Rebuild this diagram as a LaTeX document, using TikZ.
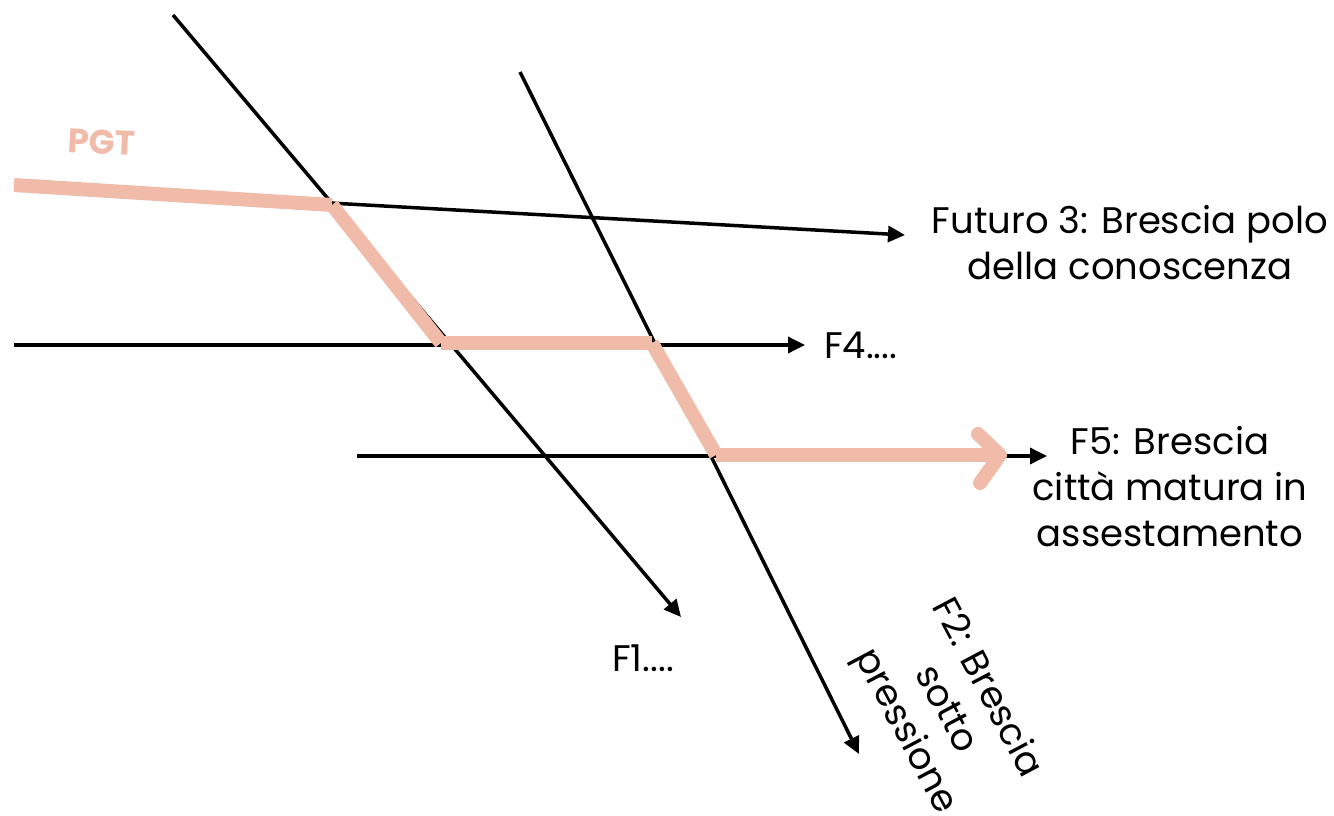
\documentclass[tikz,border=0pt]{standalone}
\usepackage{fontspec}
\setmainfont{Poppins}
\usetikzlibrary{arrows.meta}
\definecolor{pgtpink}{HTML}{F0BBA8}
\tikzset{
  blk/.style={line width=3.5pt, draw=black, -{Triangle[length=17pt,width=16pt]}},
  pinkseg/.style={line width=14pt, draw=pgtpink, line cap=butt},
  lbl/.style={font=\fontsize{37}{46}\selectfont, align=center, inner sep=0pt}
}
\begin{document}
\begin{tikzpicture}[x=1pt,y=-1pt]
\useasboundingbox[fill=white] (0,0) rectangle (1334,816);
% coordinates
\coordinate (a0) at (173,15);  \coordinate (a1) at (681,617);
\coordinate (b0) at (520,72);  \coordinate (b1) at (859,754);
\coordinate (c0) at (330,203); \coordinate (c1) at (905,235);
\coordinate (d0) at (14,345);  \coordinate (d1) at (805,345);
\coordinate (e0) at (357,456); \coordinate (e1) at (1047,456);
% pink path points
\coordinate (p0) at (14,185);
\coordinate (p1) at (332,205);
\coordinate (p2) at (441,343);
\coordinate (p3) at (652,343);
\coordinate (p4) at (716,455);
\coordinate (p5) at (1000,455);
\coordinate (q1) at (978,434);
\coordinate (q2) at (980,483);
% black lines
\draw[blk] (a0) -- (a1);
\draw[blk] (b0) -- (b1);
\draw[blk] (c0) -- (c1);
\draw[blk] (d0) -- (d1);
\draw[blk] (e0) -- (e1);
% pink path
\draw[pinkseg] (p0) -- (p1);
\draw[pinkseg] (p1) -- (p2);
\draw[pinkseg] (p2) -- (p3);
\draw[pinkseg] (p3) -- (p4);
\draw[pinkseg] (p4) -- (p5);
\draw[line width=14pt, draw=pgtpink, line cap=round, line join=round] (q1) -- (p5) -- (q2);
% labels
\node[font=\bfseries\fontsize{34}{40}\selectfont, text=pgtpink, rotate=-3, inner sep=0pt] (pgt) at (102,142) {PGT};
\node[lbl, anchor=center] (f3) at (1130,243) {Futuro 3: Brescia polo\\della conoscenza};
\node[lbl, anchor=west] (f4) at (824,345) {F4....};
\node[lbl, anchor=center] (f5) at (1170,487) {F5: Brescia\\città matura in\\assestamento};
\node[lbl, anchor=center] (f1) at (643,658) {F1....};
\node[lbl, anchor=center, rotate=-62] (f2) at (945,710) {F2: Brescia\\sotto\\pressione};
\end{tikzpicture}
\end{document}
